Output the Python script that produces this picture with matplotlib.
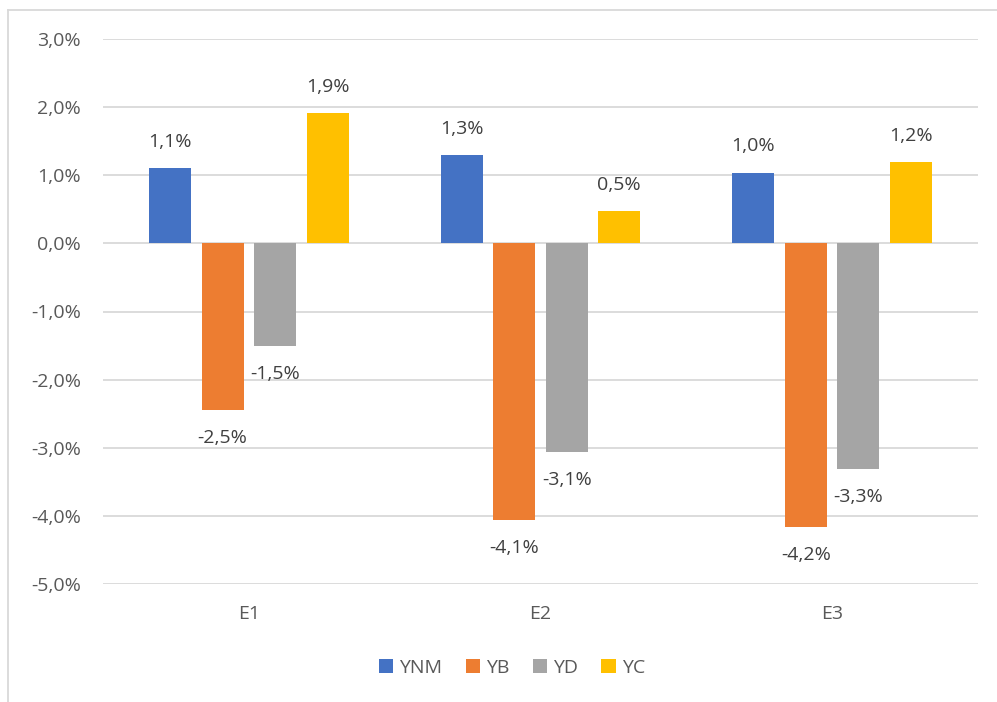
import matplotlib.pyplot as plt
import numpy as np
from matplotlib.lines import Line2D
from matplotlib.ticker import FuncFormatter

plt.rcParams['font.family'] = ['Open Sans', 'DejaVu Sans']

categories = ["E1", "E2", "E3"]
series_names = ["YNM", "YB", "YD", "YC"]
ynm = [1.1, 1.29, 1.04]
yb = [-2.45, -4.06, -4.16]
yd = [-1.51, -3.06, -3.31]
yc = [1.91, 0.47, 1.19]
colors = ["#4472C4", "#ED7D31", "#A5A5A5", "#FFC000"]

TEXT = "#595959"
FS = 14


def pct(v, _=None):
    return f"{v:.1f}%".replace(".", ",")


fig = plt.figure(figsize=(9.97, 7.02), dpi=100)
ax = fig.add_axes([103 / 997, 1 - 584 / 702, (978 - 103) / 997, (584 - 39) / 702])

x = np.arange(len(categories))
width = 0.144
step = 0.18
for i, (name, vals) in enumerate(zip(series_names, [ynm, yb, yd, yc])):
    pos = x + (i - 1.5) * step
    ax.bar(pos, vals, width, color=colors[i], label=name, zorder=3)
    for p, v in zip(pos, vals):
        off = 19 if v >= 0 else -20
        ax.annotate(pct(round(v, 1)), (p, v), xytext=(0, off), textcoords="offset points",
                    ha="center", va="center", fontsize=FS, color="#404040")

ax.set_xlim(-0.5, 2.5)
ax.set_ylim(-5, 3)
ax.set_yticks(np.arange(-5, 3.1, 1))
ax.yaxis.set_major_formatter(FuncFormatter(pct))
ax.set_xticks(x)
ax.set_xticklabels(categories)
ax.grid(axis="y", color="#D9D9D9", linewidth=1.3, zorder=0)
for s in ax.spines.values():
    s.set_visible(False)
ax.tick_params(length=0, labelsize=FS, labelcolor=TEXT)
ax.tick_params(axis="y", pad=16)
ax.tick_params(axis="x", pad=15)

ax.legend(loc="center", bbox_to_anchor=(512 / 997, 1 - 668 / 702), bbox_transform=fig.transFigure,
          ncol=4, frameon=False, fontsize=FS, labelcolor=TEXT, handlelength=0.75, handleheight=0.75,
          handletextpad=0.3, columnspacing=1.2)

fig.add_artist(Line2D([8 / 997, 1], [1 - 10 / 702] * 2, color="#D9D9D9", lw=1.3, transform=fig.transFigure))
fig.add_artist(Line2D([8 / 997] * 2, [0, 1 - 10 / 702], color="#D9D9D9", lw=1.3, transform=fig.transFigure))

fig.savefig("out.png", dpi=100, facecolor="white")
